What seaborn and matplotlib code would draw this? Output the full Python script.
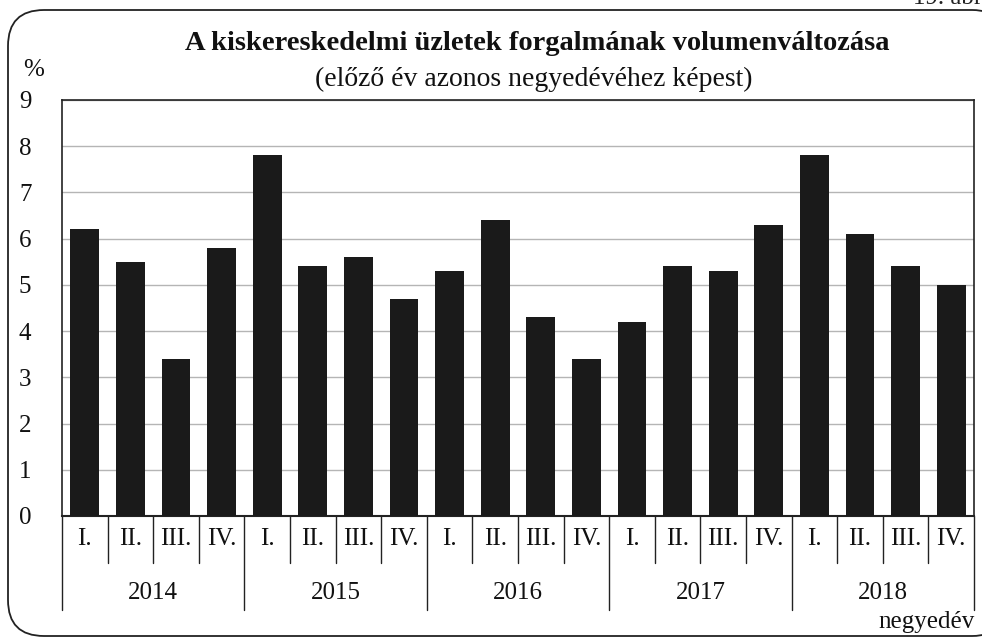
import matplotlib
matplotlib.use("Agg")
import matplotlib.pyplot as plt
import matplotlib.transforms as mtransforms
from matplotlib.patches import FancyBboxPatch
import seaborn as sns
import pandas as pd
import numpy as np

# adatok
years = ["2014", "2015", "2016", "2017", "2018"]
quarters = ["I.", "II.", "III.", "IV."]
values = [6.2, 5.5, 3.4, 5.8,
          7.8, 5.4, 5.6, 4.7,
          5.3, 6.4, 4.3, 3.4,
          4.2, 5.4, 5.3, 6.3,
          7.8, 6.1, 5.4, 5.0]

title = "A kiskereskedelmi üzletek forgalmának volumenváltozása"
subtitle = "(előző év azonos negyedévéhez képest)"

sns.set_theme(style="white")
plt.rcParams["font.family"] = ["Liberation Serif", "DejaVu Serif"]

labels = [f"{y} {q}" for y in years for q in quarters]
df = pd.DataFrame({"negyedev": labels, "ertek": values})

W, H = 982, 639
fig = plt.figure(figsize=(W / 100, H / 100), dpi=100)

# háttér-tengely a lekerekített kerethez (pixel koordináták)
bg = fig.add_axes([0, 0, 1, 1])
bg.set_xlim(0, W)
bg.set_ylim(H, 0)
bg.axis("off")
frame = FancyBboxPatch((8, 10), 1000, 626,
                       boxstyle="round,pad=0,rounding_size=36",
                       fc="white", ec="#222222", lw=1.3)
bg.add_patch(frame)
bg.text(913, 4, "19. ábra", fontsize=18, ha="left", va="baseline", color="#222222")
bg.text(537, 50, title, fontsize=20.5, fontweight="bold", ha="center", va="baseline", color="#111111")
bg.text(534, 86, subtitle, fontsize=20, ha="center", va="baseline", color="#111111")
bg.text(34, 76, "%", fontsize=18, ha="center", va="baseline", color="#111111")
bg.text(975, 628, "negyedév", fontsize=18, ha="right", va="baseline", color="#111111")

ax = fig.add_axes([62 / W, 1 - 516 / H, (974 - 62) / W, (516 - 100) / H])
ax.set_zorder(2)
ax.patch.set_alpha(0)
sns.barplot(data=df, x="negyedev", y="ertek", color="#1a1a1a", saturation=1,
            width=0.63, linewidth=0, ax=ax, zorder=3)
ax.set_ylim(0, 9)
ax.set_xlim(-0.5, len(values) - 0.5)
ax.set_yticks(range(0, 10))
ax.yaxis.grid(True, color="#b5b5b5", lw=1)
ax.set_axisbelow(True)
ax.set_xlabel("")
ax.set_ylabel("")
ax.set_xticks([])
ax.tick_params(axis="y", length=0, pad=22, labelsize=18, labelcolor="#111111")
for s in ax.spines.values():
    s.set_visible(True)
    s.set_color("#222222")
    s.set_linewidth(1.2)
ax.spines["bottom"].set_linewidth(1.5)

# kategóriatengely: negyedévek és évek
trans = mtransforms.blended_transform_factory(ax.transData, ax.transAxes)
n = len(values)
for i in range(n + 1):
    x = i - 0.5
    yend = -0.225 if (i % 4 == 0) else -0.112
    ax.plot([x, x], [0, yend], color="#222222", lw=1, transform=trans, clip_on=False)
for i in range(n):
    ax.text(i, -0.056, quarters[i % 4], transform=trans, ha="center", va="center",
            fontsize=18, color="#111111")
for j, y in enumerate(years):
    ax.text(j * 4 + 1.5, -0.185, y, transform=trans, ha="center", va="center",
            fontsize=18, color="#111111")

fig.savefig("out.png", dpi=100)
